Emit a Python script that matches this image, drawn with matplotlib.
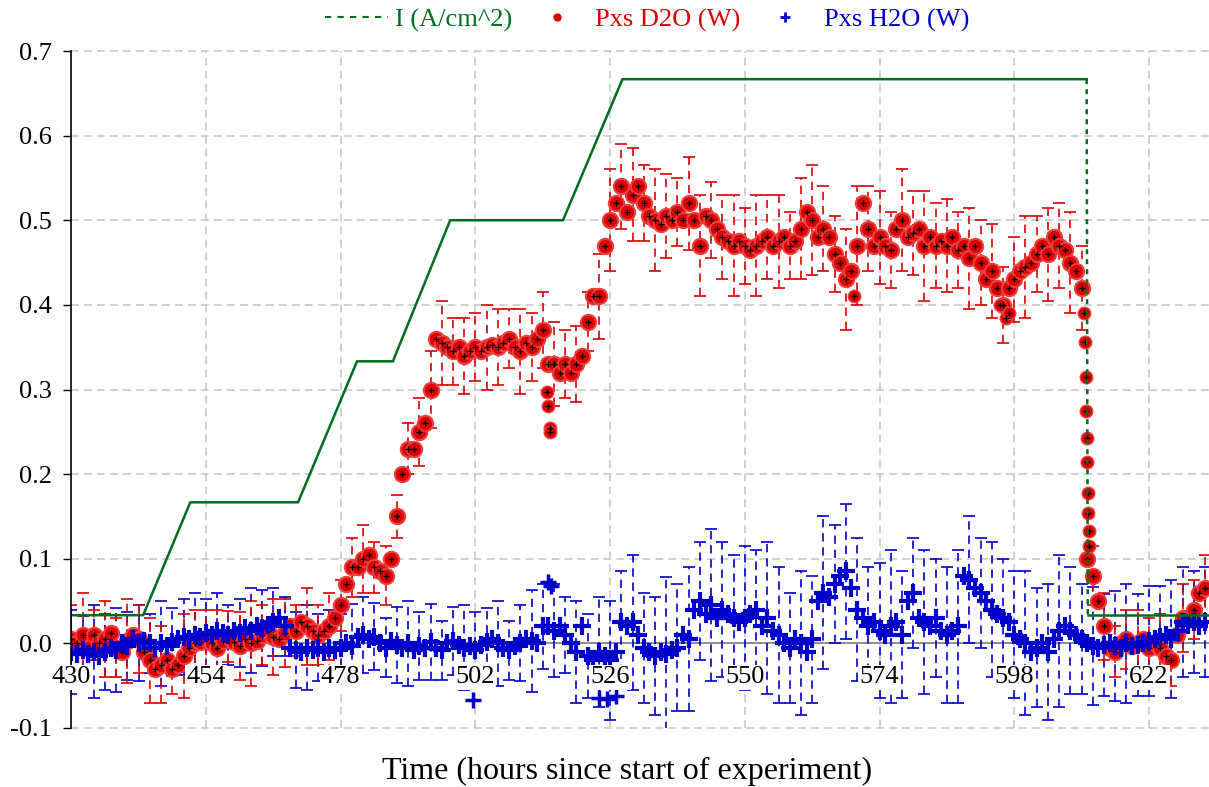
import matplotlib.pyplot as plt
from matplotlib.lines import Line2D

plt.rcParams['font.family'] = ['Liberation Serif', 'DejaVu Serif']

# hourly samples, 430 .. 632 h
hours = list(range(430, 633))

d2o = [0.005, 0.000, 0.010, -0.005, 0.010, 0.000, 0.005, 0.012, -0.005, -0.010, 0.003, 0.010,
       0.005, -0.010, -0.020, -0.030, -0.025, -0.020, -0.030, -0.025, -0.015, -0.005, 0.000, 0.002,
       0.005, 0.000, -0.005, 0.003, 0.008, 0.002, -0.003, 0.005, 0.000, 0.003, 0.010, 0.015,
       0.008, 0.005, 0.012, 0.020, 0.015, 0.025, 0.020, 0.015, 0.010, 0.015, 0.020, 0.030,
       0.045, 0.070, 0.090, 0.090, 0.100, 0.105, 0.090, 0.085, 0.080, 0.100, 0.150, 0.200,
       0.230, 0.230, 0.250, 0.260, 0.300, 0.360, 0.355, 0.350, 0.345, 0.350, 0.340, 0.345,
       0.350, 0.345, 0.350, 0.352, 0.350, 0.355, 0.360, 0.350, 0.345, 0.355, 0.350, 0.360,
       0.370, 0.330, 0.330, 0.320, 0.330, 0.320, 0.330, 0.340, 0.380, 0.410, 0.410, 0.470,
       0.500, 0.520, 0.540, 0.510, 0.530, 0.540, 0.520, 0.505, 0.500, 0.495, 0.505, 0.500,
       0.510, 0.500, 0.520, 0.500, 0.470, 0.505, 0.500, 0.490, 0.480, 0.475, 0.470, 0.475,
       0.470, 0.465, 0.470, 0.475, 0.480, 0.470, 0.475, 0.480, 0.470, 0.475, 0.490, 0.510,
       0.500, 0.480, 0.490, 0.480, 0.460, 0.450, 0.430, 0.440, 0.470, 0.520, 0.490, 0.470,
       0.480, 0.470, 0.465, 0.490, 0.500, 0.480, 0.485, 0.490, 0.470, 0.480, 0.470, 0.475,
       0.470, 0.480, 0.465, 0.470, 0.455, 0.470, 0.450, 0.430, 0.440, 0.420, 0.400, 0.420,
       0.430, 0.440, 0.445, 0.450, 0.460, 0.470, 0.460, 0.480, 0.470, 0.465, 0.450, 0.440,
       0.420, 0.100, 0.080, 0.050, 0.020, -0.005, -0.010, 0.000, 0.005, -0.003, 0.000, 0.005,
       -0.005, 0.000, -0.005, -0.015, -0.020, 0.010, 0.030, 0.030, 0.040, 0.060, 0.065]

h2o = [-0.010, -0.012, -0.008, -0.012, -0.010, -0.015, -0.010, -0.005, -0.008, 0.000, -0.003, 0.005,
       0.000, 0.003, 0.000, -0.005, 0.000, -0.003, 0.002, 0.005, 0.008, 0.005, 0.010, 0.008,
       0.012, 0.010, 0.015, 0.012, 0.010, 0.015, 0.012, 0.018, 0.015, 0.020, 0.018, 0.022,
       0.025, 0.030, 0.020, -0.005, -0.008, -0.010, -0.005, -0.008, -0.005, -0.010, -0.006, -0.008,
       -0.005, 0.000, -0.003, 0.008, 0.010, 0.005, 0.008, 0.000, -0.005, 0.003, -0.002, -0.005,
       0.000, -0.008, -0.003, -0.005, 0.002, -0.005, -0.008, 0.000, 0.003, -0.002, -0.005, -0.003,
       -0.008, -0.002, 0.002, 0.005, 0.000, -0.005, -0.008, -0.003, 0.000, 0.005, 0.003, 0.000,
       0.020, 0.020, 0.015, 0.020, 0.010, 0.000, -0.010, 0.020, -0.015, -0.020, -0.010, -0.015,
       -0.020, -0.010, 0.025, 0.020, 0.025, 0.010, -0.005, -0.010, -0.015, -0.010, -0.012, -0.008,
       -0.005, 0.010, 0.005, 0.040, 0.050, 0.035, 0.045, 0.030, 0.040, 0.035, 0.030, 0.025,
       0.030, 0.035, 0.040, 0.020, 0.030, 0.015, 0.010, 0.000, -0.005, 0.005, 0.000, -0.010,
       0.005, 0.050, 0.060, 0.055, 0.070, 0.080, 0.085, 0.065, 0.040, 0.030, 0.020, 0.025,
       0.015, 0.010, 0.020, 0.025, 0.010, 0.050, 0.060, 0.030, 0.025, 0.020, 0.030, 0.015,
       0.010, 0.015, 0.020, 0.080, 0.075, 0.065, 0.060, 0.050, 0.040, 0.035, 0.030, 0.025,
       0.010, 0.005, 0.000, -0.010, -0.005, 0.000, -0.010, 0.005, 0.015, 0.020, 0.015, 0.010,
       0.005, 0.000, -0.003, -0.005, -0.002, 0.000, -0.003, -0.005, 0.000, -0.003, -0.002, 0.000,
       0.003, 0.005, 0.008, 0.010, 0.005, 0.015, 0.025, 0.022, 0.025, 0.020, 0.025]

# error bars shown every 2 h (430, 432, ... 632)
d2o_err = [0.04, 0.05, 0.03, 0.045, 0.035, 0.05, 0.04, 0.05, 0.045, 0.03, 0.05, 0.04,
           0.035, 0.045, 0.03, 0.04, 0.05, 0.035, 0.045, 0.04, 0.03, 0.045, 0.035, 0.04,
           0.03, 0.035, 0.04, 0.03, 0.035, 0.025, 0.03, 0.04, 0.045, 0.05, 0.04, 0.045,
           0.04, 0.05, 0.045, 0.035, 0.05, 0.04, 0.045, 0.05, 0.04, 0.045, 0.035, 0.05,
           0.06, 0.05, 0.055, 0.045, 0.06, 0.05, 0.04, 0.055, 0.06, 0.045, 0.05, 0.06,
           0.045, 0.06, 0.05, 0.055, 0.04, 0.06, 0.065, 0.05, 0.045, 0.06, 0.07, 0.05,
           0.055, 0.045, 0.06, 0.05, 0.065, 0.05, 0.055, 0.045, 0.06, 0.05, 0.055, 0.045,
           0.05, 0.06, 0.045, 0.055, 0.05, 0.06, 0.05, 0.035, 0.04, 0.03, 0.035, 0.04,
           0.035, 0.04, 0.03, 0.04, 0.035, 0.04]
h2o_err = [0.05, 0.04, 0.055, 0.045, 0.05, 0.04, 0.045, 0.035, 0.05, 0.04, 0.045, 0.05,
           0.04, 0.045, 0.035, 0.04, 0.05, 0.045, 0.04, 0.035, 0.045, 0.05, 0.04, 0.045,
           0.04, 0.05, 0.045, 0.04, 0.035, 0.045, 0.05, 0.04, 0.045, 0.035, 0.04, 0.05,
           0.045, 0.04, 0.05, 0.035, 0.045, 0.06, 0.05, 0.055, 0.045, 0.06, 0.05, 0.065,
           0.07, 0.06, 0.08, 0.065, 0.07, 0.09, 0.075, 0.085, 0.07, 0.09, 0.08, 0.075,
           0.085, 0.07, 0.09, 0.08, 0.065, 0.085, 0.075, 0.09, 0.07, 0.08, 0.085, 0.07,
           0.08, 0.09, 0.075, 0.065, 0.085, 0.07, 0.08, 0.09, 0.075, 0.065, 0.08, 0.07,
           0.075, 0.085, 0.07, 0.08, 0.09, 0.075, 0.065, 0.07, 0.06, 0.065, 0.07, 0.06,
           0.065, 0.06, 0.07, 0.065, 0.06, 0.065]

# extra points off the hourly grid (fast drop, outliers)
d2o_extra_t = [514.8, 515.0, 515.2, 515.3, 569.5, 595.5, 596.5, 597.0,
               610.5, 610.6, 610.7, 610.8, 610.9, 611.0, 611.1, 611.2, 611.3, 611.4]
d2o_extra = [0.297, 0.280, 0.255, 0.250, 0.410, 0.400, 0.385, 0.390,
             0.390, 0.356, 0.315, 0.275, 0.243, 0.214, 0.178, 0.154, 0.133, 0.115]
h2o_extra_t = [501.5, 515.0, 515.5, 524.0, 525.5, 527.0]
h2o_extra = [-0.067, 0.072, 0.068, -0.064, -0.066, -0.062]

# cell current density profile
i_t = [430, 442.8, 451.2, 470.4, 480.9, 487.3, 497.5, 517.6, 528.2, 610.9, 611.1, 633]
i_a = [0.0333, 0.0333, 0.1667, 0.1667, 0.3333, 0.3333, 0.5, 0.5, 0.6667, 0.6667, 0.0333, 0.0333]

xticks = [430, 454, 478, 502, 526, 550, 574, 598, 622]
yticks = [-0.1, 0.0, 0.1, 0.2, 0.3, 0.4, 0.5, 0.6, 0.7]

red = '#dd0000'
blue = '#0000cc'
green = '#006e1e'

fig = plt.figure(figsize=(12.09, 7.87), dpi=100)
ax = fig.add_axes([71.3 / 1209, 59 / 787, 1 - 71.3 / 1209, 677 / 787])

# grid
for x in xticks[1:]:
    ax.axvline(x, color='#c4c4c4', lw=1.1, ls=(0, (5.2, 3.3)), zorder=0)
for y in yticks:
    ax.axhline(y, color='#c4c4c4', lw=1.1, ls=(0, (5.2, 3.3)), zorder=0, clip_on=False)
ax.axhline(0, color='#808080', lw=1.2, zorder=1)

# error bars
eb = ax.errorbar(hours[::2], h2o[::2], yerr=h2o_err, fmt='none', ecolor=blue,
                 elinewidth=1.2, capsize=4.5, capthick=1.2, zorder=2)
eb[2][0].set_linestyle((0, (5, 3.5)))
eb = ax.errorbar(hours[::2], d2o[::2], yerr=d2o_err, fmt='none', ecolor=red,
                 elinewidth=1.2, capsize=4.5, capthick=1.2, zorder=2)
eb[2][0].set_linestyle((0, (5, 3.5)))

# points
ax.plot(hours, d2o, 'o', color=red, ms=11, mec='#e84040', mew=1.5, zorder=3)
ax.plot(d2o_extra_t, d2o_extra, 'o', color=red, ms=9, mec='#e84040', zorder=3)
ax.plot(hours, d2o, '+', color='black', ms=4, mew=1, zorder=4)
ax.plot(d2o_extra_t, d2o_extra, '+', color='black', ms=4, mew=1, zorder=4)
ax.plot(hours, h2o, '+', color=blue, ms=13, mew=3, zorder=5)
ax.plot(h2o_extra_t, h2o_extra, '+', color=blue, ms=11, mew=2.5, zorder=5)

# current density
ax.plot(i_t[:10], i_a[:10], '-', color=green, lw=1.8, zorder=6)
ax.plot(i_t[9:11], i_a[9:11], color=green, lw=1.8, ls=(0, (2, 2)), zorder=6)
ax.plot(i_t[10:], i_a[10:], '-', color=green, lw=1.8, zorder=6)

# x tick labels sit just below the zero line
for x in xticks:
    ax.text(x, -0.027, str(x), ha='center', va='top', fontsize=19, zorder=10,
            bbox=dict(fc='white', ec='none', pad=1))

ax.set_xlim(430, 632.7)
ax.set_ylim(-0.1, 0.7)
ax.set_xticks([])
ax.set_yticks(yticks)
ax.set_yticklabels(['%.1f' % y for y in yticks])
ax.tick_params(axis='y', direction='out', length=6, width=1, pad=8, labelsize=19)
for s in ['top', 'right', 'bottom']:
    ax.spines[s].set_visible(False)
ax.spines['left'].set_linewidth(1.2)
ax.spines['left'].set_zorder(7)

fig.text(627 / 1209, 1 - 771 / 787, 'Time (hours since start of experiment)',
         ha='center', va='center', fontsize=23)

handles = [Line2D([], [], color=green, lw=1.5, ls=(0, (3, 3))),
           Line2D([], [], ls='none', marker='o', color=red, ms=5),
           Line2D([], [], ls='none', marker='+', color=blue, ms=7, mew=2)]
labels = ['I (A/cm^2)', 'Pxs D2O (W)', 'Pxs H2O (W)']
leg = fig.legend(handles, labels, loc='center', bbox_to_anchor=(647 / 1209, 1 - 20 / 787),
                 ncol=3, frameon=False, fontsize=19, handlelength=2.4,
                 handletextpad=0.25, columnspacing=0.5, borderpad=0)
for t, c in zip(leg.get_texts(), [green, red, blue]):
    t.set_color(c)

plt.savefig('out.png', dpi=100)
